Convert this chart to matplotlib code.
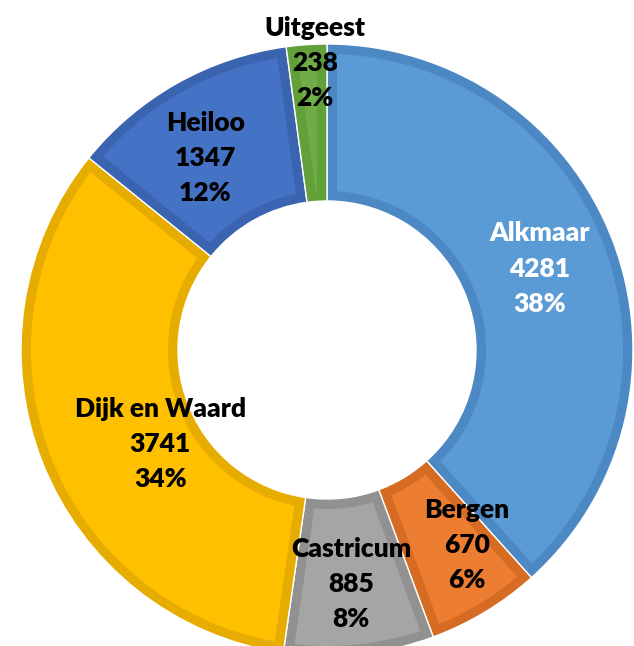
import numpy as np
import matplotlib
matplotlib.use('Agg')
import matplotlib.pyplot as plt
from matplotlib.patches import Polygon

plt.rcParams['font.family'] = ['Lato', 'DejaVu Sans']

gemeenten = ['Alkmaar', 'Bergen', 'Castricum', 'Dijk en Waard', 'Heiloo', 'Uitgeest']
aantallen = [4281, 670, 885, 3741, 1347, 238]
kleuren = ['#5B9BD5', '#ED7D31', '#A5A5A5', '#FFC000', '#4472C4', '#70AD47']
randen = ['#4C88C4', '#D66B24', '#919191', '#E6AC00', '#3B64B0', '#62A03A']
tekstkleur = ['white', 'black', 'black', 'black', 'black', 'black']

# label nudges in pixels (Excel schuift labels wat op)
verschuif = [(0, 0), (22, 0), (0, -8), (45, -11), (-10, -6), (3, 60)]

R_UIT = 306
R_IN = 149
RAND = 10  # breedte donkere rand, px


def binnenvlak(t1, t2, r_uit, r_in, b):
    # stuk van de ring, aan alle kanten b px ingekort
    ro, ri = r_uit - b, r_in + b
    do = np.rad2deg(np.arcsin(b / ro))
    di = np.rad2deg(np.arcsin(b / ri))
    a1, a2 = t1 + do, t2 - do
    c1, c2 = t1 + di, t2 - di
    if c2 <= c1:
        c1 = c2 = (t1 + t2) / 2
    buiten = np.deg2rad(np.linspace(a1, a2, 100))
    binnen = np.deg2rad(np.linspace(c2, c1, 100))
    xs = np.concatenate([ro * np.cos(buiten), ri * np.cos(binnen)])
    ys = np.concatenate([ro * np.sin(buiten), ri * np.sin(binnen)])
    return np.column_stack([xs, ys])


fig = plt.figure(figsize=(6.34, 6.46), dpi=100)
ax = fig.add_axes([0, 0, 1, 1])
cx, cy = 327, 350

# donkere rand = volledige taartpunt
wedges, _ = ax.pie(aantallen, colors=randen, startangle=90, counterclock=False,
                   radius=R_UIT, wedgeprops=dict(width=R_UIT - R_IN, edgecolor='white',
                                                 linewidth=1.0))

# lichtere binnenkant
for w, kl in zip(wedges, kleuren):
    ax.add_patch(Polygon(binnenvlak(w.theta1, w.theta2, R_UIT, R_IN, RAND),
                         closed=True, facecolor=kl, edgecolor='none'))

ax.set_xlim(-cx, 634 - cx)
ax.set_ylim(-(646 - cy), cy)
ax.set_aspect('equal')
ax.axis('off')

totaal = sum(aantallen)
r_lab = (R_UIT + R_IN) / 2
for w, naam, n, tk, (dx, dy) in zip(wedges, gemeenten, aantallen, tekstkleur, verschuif):
    hoek = np.deg2rad((w.theta1 + w.theta2) / 2)
    x = r_lab * np.cos(hoek) + dx
    y = r_lab * np.sin(hoek) + dy
    pct = round(100 * n / totaal)
    ax.text(x, y, f'{naam}\n{n}\n{pct}%', ha='center', va='center', color=tk,
            fontsize=19, fontweight='heavy', linespacing=1.56)

fig.savefig('out.png', dpi=100)
